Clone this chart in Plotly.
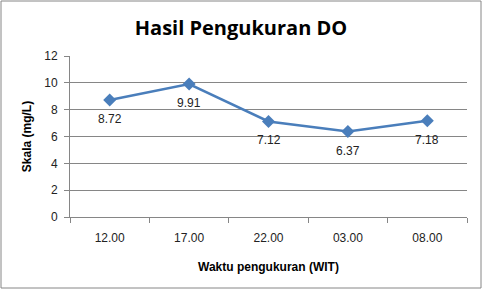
import plotly.graph_objects as go

categories = ["12.00", "17.00", "22.00", "03.00", "08.00"]
values = [8.72, 9.91, 7.12, 6.37, 7.18]
labels = ["8.72", "9.91", "7.12", "6.37", "7.18"]

W, H = 482, 289
L, R, T, B = 70, 15, 56, 72
pw, ph = W - L - R, H - T - B

fig = go.Figure()
fig.add_trace(go.Scatter(
    x=categories, y=values, mode="lines+markers",
    line=dict(color="#4A7EBB", width=2.5),
    marker=dict(symbol="diamond", size=10, color="#4A7EBB"),
    cliponaxis=False,
))
for i, (v, t) in enumerate(zip(values, labels)):
    fig.add_annotation(x=i, y=v, text=t, showarrow=False, yshift=-19,
                       font=dict(family="Liberation Sans, Arial", size=12, color="#222222"))

fig.update_layout(
    width=W, height=H,
    margin=dict(l=L, r=R, t=T, b=B),
    paper_bgcolor="white", plot_bgcolor="white",
    showlegend=False,
    title=dict(text="<b>Hasil Pengukuran DO</b>", x=0.5, xanchor="center",
               y=1 - 28 / H, yanchor="middle",
               font=dict(family="Open Sans, Liberation Sans", size=20, color="black")),
    font=dict(family="Liberation Sans, Arial", size=12, color="#222222"),
)
fig.update_xaxes(
    type="category", range=[-0.5, 4.5],
    showline=True, linecolor="#868686", linewidth=1,
    ticks="outside", tickson="boundaries", ticklen=5, tickcolor="#868686",
    ticklabelstandoff=10,
    showgrid=False, tickfont=dict(size=12, color="#222222"),
    title=dict(text="<b>Waktu pengukuran (WIT)</b>", standoff=18,
               font=dict(size=12, color="black")),
)
fig.update_yaxes(
    range=[0, 12], dtick=2,
    showline=True, linecolor="#868686", linewidth=1,
    ticks="outside", ticklen=5, tickcolor="#868686",
    ticklabelstandoff=4,
    showgrid=True, gridcolor="#868686", gridwidth=1,
    zeroline=False, tickfont=dict(size=12, color="#222222"),
    title=dict(text="<b>Skala (mg/L)</b>", standoff=10,
               font=dict(size=12, color="black")),
)
fig.add_shape(type="rect", xref="paper", yref="paper",
              x0=-(L - 1) / pw, x1=1 + (R - 1) / pw,
              y0=-(B - 1) / ph, y1=1 + (T - 1) / ph,
              line=dict(color="#868686", width=1), layer="below")

fig.write_html("out.html")
